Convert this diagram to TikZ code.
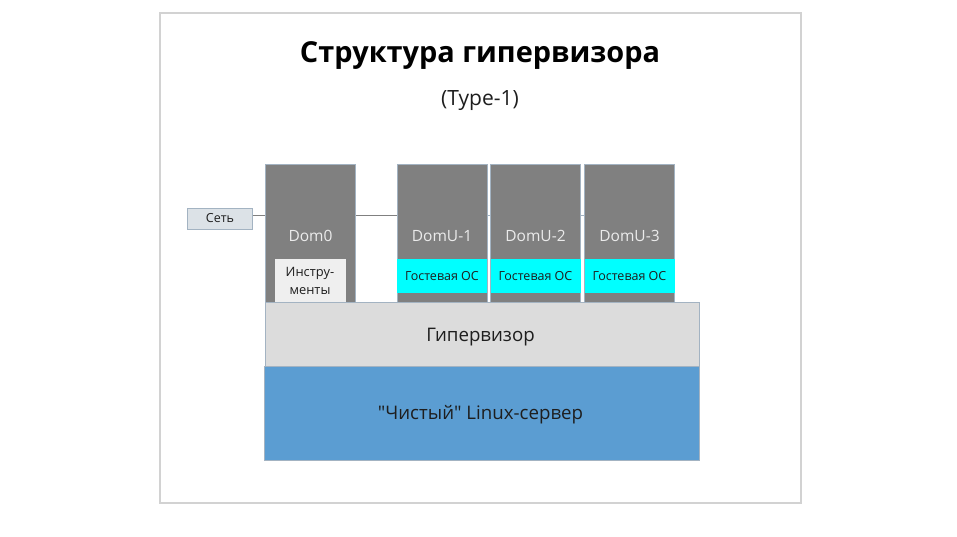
\documentclass[tikz,border=0pt]{standalone}
\usepackage{fontspec}
\setmainfont{Open Sans}[Ligatures = TeXOff]
\usetikzlibrary{positioning}
\definecolor{domgray}{HTML}{808080}
\definecolor{guestcyan}{HTML}{00FFFF}
\definecolor{hypgray}{HTML}{DCDCDC}
\definecolor{serverblue}{HTML}{5B9DD2}
\definecolor{edgeblue}{HTML}{A3B3C2}
\definecolor{framegray}{HTML}{D2D2D2}
\definecolor{netgray}{HTML}{DCE2E7}
\definecolor{toolgray}{HTML}{EFEFEF}
\definecolor{inkgray}{HTML}{1E1E1E}
\tikzset{
  layer/.style = {draw = edgeblue, line width = 0.8pt, inner sep = 0pt, text = inkgray},
  dombox/.style = {fill = domgray, draw = edgeblue, line width = 0.6pt, minimum width = 90pt, minimum height = 138pt},
  guestbox/.style = {fill = guestcyan, minimum width = 90pt, minimum height = 34pt, inner sep = 0pt, text = inkgray, font = \fontsize{12.5}{14}\selectfont},
  domlabel/.style = {text = white!92!black, font = \fontsize{15.5}{18}\selectfont},
  layerlabel/.style = {text = inkgray, font = \fontsize{18.7}{22}\selectfont}
}
\begin{document}
\begin{tikzpicture}[x = 1pt, y = -1pt]
  \useasboundingbox[fill = white] (0, 0) rectangle (957, 536);
  \draw[framegray, line width = 1.8pt] (160, 13) rectangle (801, 503);
  \node[font = \bfseries\fontsize{28.9}{34}\selectfont] (title) at (480, 56) {Структура гипервизора};
  \node[font = \fontsize{21}{24}\selectfont, text = inkgray] (type) at (480, 101) {(Type-1)};
  \node[layer, fill = netgray, minimum width = 65pt, minimum height = 21pt, font = \fontsize{12.5}{14}\selectfont] (net) at (220, 218.5) {Сеть};
  \node[dombox] (dom0) at (310.5, 233) {};
  \node[dombox] (domu1) at (442, 233) {};
  \node[dombox] (domu2) at (535.5, 233) {};
  \node[dombox] (domu3) at (629.5, 233) {};
  \coordinate (bus) at (0, 215);
  \draw[domgray, line width = 0.9pt] (net.east |- bus) -- (dom0.west |- bus);
  \draw[domgray, line width = 0.9pt] (dom0.east |- bus) -- (domu1.west |- bus);
  \draw[edgeblue, line width = 0.9pt] (domu1.east |- bus) -- (domu2.west |- bus);
  \draw[edgeblue, line width = 0.9pt] (domu2.east |- bus) -- (domu3.west |- bus);
  \node[domlabel] (dom0name) at (310.5, 236) {Dom0};
  \node[domlabel] (domu1name) at (442, 236) {DomU-1};
  \node[domlabel] (domu2name) at (535.5, 236) {DomU-2};
  \node[domlabel] (domu3name) at (629.5, 236) {DomU-3};
  \node[fill = toolgray, minimum width = 71pt, minimum height = 43pt, inner sep = 0pt, align = center, text = inkgray, font = \fontsize{12.9}{18}\selectfont] (tools) at (310, 280.5) {Инстру-\\менты};
  \node[guestbox] (guest1) at (442, 276) {Гостевая ОС};
  \node[guestbox] (guest2) at (535.5, 276) {Гостевая ОС};
  \node[guestbox] (guest3) at (629.5, 276) {Гостевая ОС};
  \node[layer, fill = hypgray, minimum width = 434pt, minimum height = 64pt] (hyp) at (482, 334) {};
  \node[layer, fill = serverblue, minimum width = 435pt, minimum height = 94pt] (server) at (481.5, 413) {};
  \node[layerlabel] (hypname) at (480.5, 337) {Гипервизор};
  \node[layerlabel] (servername) at (480.5, 414.5) {"Чистый" Linux-сервер};
\end{tikzpicture}
\end{document}
